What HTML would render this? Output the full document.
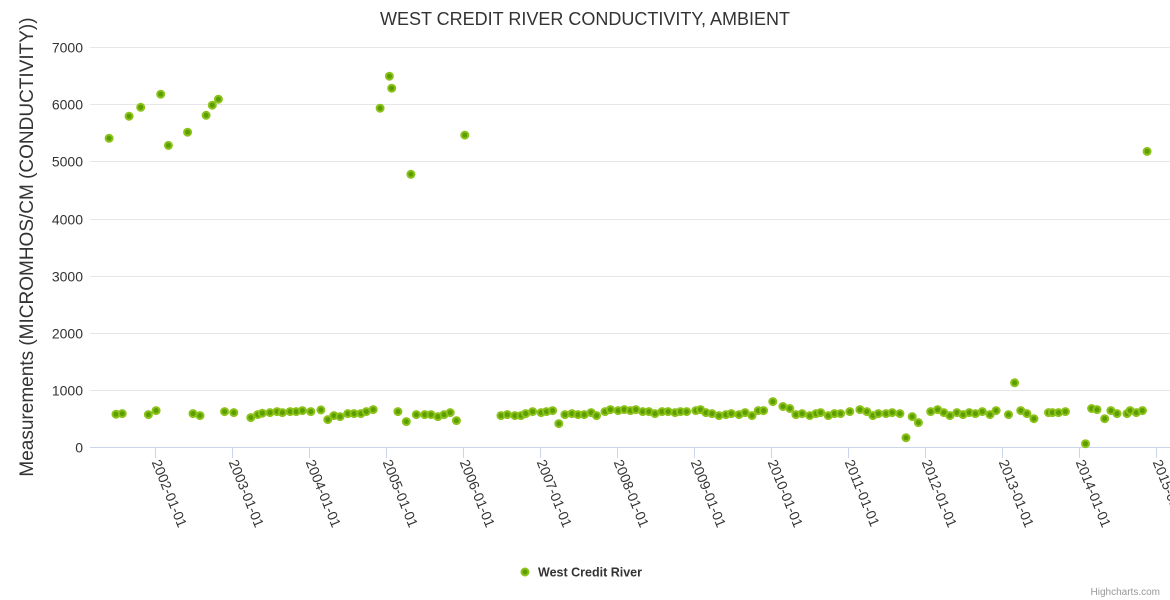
<!DOCTYPE html>
<html><head><meta charset="utf-8"><style>
html,body{margin:0;padding:0;background:#fff;}
svg{display:block;font-family:"Liberation Sans",sans-serif;}
</style></head><body>
<svg id="chart" width="1170" height="600" xmlns="http://www.w3.org/2000/svg">
<text x="585" y="25" text-anchor="middle" font-size="18" fill="#333">WEST CREDIT RIVER CONDUCTIVITY, AMBIENT</text>
<g id="grid"></g>
<g id="yticks"></g>
<text transform="translate(33,247) rotate(-90)" text-anchor="middle" font-size="19" fill="#333">Measurements (MICROMHOS/CM (CONDUCTIVITY))</text>
<line x1="90" y1="447.5" x2="1170" y2="447.5" stroke="#ccd6eb" stroke-width="1"/>
<g id="xticks"></g>
<g id="points"></g>
<g>
<circle cx="525" cy="572" r="3.5" fill="#5a9e00" stroke="#8cc21a" stroke-width="2"/>
<text x="538" y="576.5" font-size="12.5" font-weight="bold" fill="#333">West Credit River</text>
</g>
<text x="1160" y="595" text-anchor="end" font-size="10" fill="#999">Highcharts.com</text>
</svg>
<script>
const yTicks=[0,1000,2000,3000,4000,5000,6000,7000];
const xTickYears=[2002,2003,2004,2005,2006,2007,2008,2009,2010,2011,2012,2013,2014,2015];
const xTickLabels=["2002-01-01","2003-01-01","2004-01-01","2005-01-01","2006-01-01","2007-01-01","2008-01-01","2009-01-01","2010-01-01","2011-01-01","2012-01-01","2013-01-01","2014-01-01","2015-01-01"];
const dates=[2001.40,2001.49,2001.57,2001.66,2001.81,2001.91,2002.01,2002.07,2002.17,2002.42,2002.49,2002.58,2002.66,2002.74,2002.82,2002.90,2003.02,2003.24,2003.33,2003.39,2003.49,2003.58,2003.65,2003.75,2003.83,2003.91,2004.02,2004.15,2004.24,2004.32,2004.40,2004.50,2004.58,2004.67,2004.74,2004.83,2004.92,2005.04,2005.07,2005.15,2005.26,2005.32,2005.39,2005.50,2005.58,2005.67,2005.75,2005.83,2005.91,2006.02,2006.49,2006.57,2006.67,2006.75,2006.81,2006.90,2007.01,2007.08,2007.16,2007.24,2007.32,2007.41,2007.49,2007.57,2007.66,2007.73,2007.84,2007.91,2008.01,2008.09,2008.17,2008.24,2008.33,2008.41,2008.49,2008.58,2008.66,2008.75,2008.82,2008.90,2009.02,2009.08,2009.15,2009.23,2009.32,2009.41,2009.48,2009.58,2009.66,2009.75,2009.83,2009.90,2010.02,2010.15,2010.24,2010.32,2010.40,2010.50,2010.58,2010.64,2010.74,2010.82,2010.90,2011.02,2011.15,2011.24,2011.32,2011.39,2011.49,2011.57,2011.67,2011.75,2011.83,2011.91,2012.07,2012.16,2012.24,2012.32,2012.41,2012.49,2012.57,2012.65,2012.74,2012.84,2012.92,2013.08,2013.16,2013.24,2013.32,2013.41,2013.60,2013.65,2013.73,2013.82,2014.08,2014.16,2014.23,2014.33,2014.41,2014.49,2014.62,2014.66,2014.74,2014.82,2014.88];
const values=[5404,579,589,5790,5947,572,642,6175,5280,5510,589,554,5807,5982,6087,625,607,519,572,596,607,625,607,625,625,642,625,654,484,554,537,589,589,589,625,660,5930,6490,6280,625,449,4775,572,572,572,537,572,607,467,5460,554,572,554,554,589,625,607,625,642,414,572,589,572,572,607,554,625,660,642,660,642,660,625,625,589,625,625,607,625,625,642,660,607,589,554,572,589,572,607,554,642,642,800,713,678,572,589,554,589,607,554,589,589,625,660,625,554,589,589,607,589,168,537,432,625,660,607,554,607,572,607,589,625,572,642,572,1128,642,589,501,607,607,607,625,63,678,660,501,642,589,589,642,607,642,5175];
const NS="http://www.w3.org/2000/svg";
function xScale(yr){return 155.3+(yr-2002)*77;}
function yScale(v){return 447.3-v*0.05718;}
const grid=document.getElementById('grid'),yt=document.getElementById('yticks'),xt=document.getElementById('xticks'),pts=document.getElementById('points');
yTicks.forEach(v=>{
  const y=Math.round(yScale(v))+0.5;
  if(v>0){const l=document.createElementNS(NS,'line');
  
  
  l.setAttribute('x1',90);l.setAttribute('x2',1170);l.setAttribute('y1',y);l.setAttribute('y2',y);
  l.setAttribute('stroke','#e6e6e6');grid.appendChild(l);}
  const t=document.createElementNS(NS,'text');
  
  
  t.setAttribute('x',83);t.setAttribute('y',y+5);t.setAttribute('text-anchor','end');
  t.setAttribute('font-size','14');t.setAttribute('fill','#333');t.textContent=v;yt.appendChild(t);
});
xTickYears.forEach((yr,i)=>{
  const x=Math.round(xScale(yr))+0.5;
  const l=document.createElementNS(NS,'line');
  
  
  l.setAttribute('x1',x);l.setAttribute('x2',x);l.setAttribute('y1',447.5);l.setAttribute('y2',458);
  l.setAttribute('stroke','#ccd6eb');xt.appendChild(l);
  const t=document.createElementNS(NS,'text');
  
  
  t.setAttribute('transform','translate('+(x-4)+',462) rotate(68)');
  t.setAttribute('font-size','14');t.setAttribute('fill','#333');t.textContent=xTickLabels[i];xt.appendChild(t);
});
dates.forEach((d,i)=>{
  const c=document.createElementNS(NS,'circle');
  
  
  c.setAttribute('cx',xScale(d).toFixed(1));c.setAttribute('cy',yScale(values[i]).toFixed(1));
  c.setAttribute('r',3.5);c.setAttribute('fill','#5a9e00');c.setAttribute('stroke','#8cc21a');c.setAttribute('stroke-width',2);
  pts.appendChild(c);
});
</script>
</body></html>
